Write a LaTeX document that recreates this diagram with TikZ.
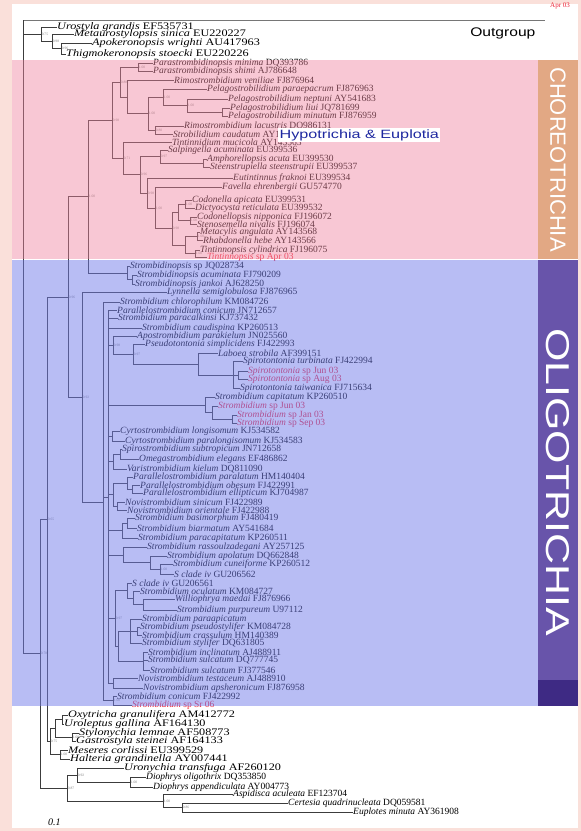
\documentclass[tikz,border=0pt]{standalone}
\usepackage{fontspec}
\setmainfont{Liberation Serif}
\setsansfont{Liberation Sans}
\usetikzlibrary{positioning}

\definecolor{treegray}{RGB}{60,60,60}
\definecolor{bordpink}{RGB}{250,224,218}
\definecolor{pinkov}{RGB}{240,133,160}
\definecolor{blueov}{RGB}{115,125,235}
\definecolor{tanbox}{RGB}{226,168,132}
\definecolor{purplebox}{RGB}{104,84,170}
\definecolor{darkpurple}{RGB}{62,42,132}
\definecolor{sampred}{RGB}{235,35,55}
\definecolor{hypoblue}{RGB}{30,40,160}

\newcommand{\sq}[2]{\textit{#1} #2}

\begin{document}
\begin{tikzpicture}[x=1pt, y=-1pt,
    leaf/.style={anchor=west, inner sep=0pt, font=\fontsize{9.5}{10}\selectfont, text=black},
    bigleaf/.style={leaf, font=\fontsize{10}{10}\selectfont, xscale=1.22},
    sample/.style={leaf, text=sampred},
    branch/.style={draw=treegray, line width=0.6pt},
    support/.style={anchor=west, inner sep=0.6pt, font=\fontsize{3.6}{4}\selectfont, text=gray},
    sidelabel/.style={rotate=-90, text=white, font=\sffamily, inner sep=0pt}
]

\useasboundingbox (0,0) rectangle (581,831);
\fill[bordpink] (0,0) rectangle (581,831);
\fill[white] (12,4) rectangle (578,828);

% outgroup
\node[bigleaf] (urgr) at (57,27) {\sq{Urostyla grandis}{EF535731}};
\node[bigleaf] (mesi) at (74,34) {\sq{Metaurostylopsis sinica}{EU220227}};
\node[bigleaf] (apwr) at (92,43) {\sq{Apokeronopsis wrighti}{AU417963}};
\node[bigleaf] (thst) at (66,54) {\sq{Thigmokeronopsis stoecki}{EU220226}};

% choreotrichia
\node[leaf] (pmin) at (153,63) {\sq{Parastrombidinopsis minima}{DQ393786}};
\node[leaf] (pshi) at (153,71) {\sq{Parastrombidinopsis shimi}{AJ786648}};
\node[leaf] (rven) at (174,80) {\sq{Rimostrombidium veniliae}{FJ876964}};
\node[leaf] (ppar) at (207,89) {\sq{Pelagostrobilidium paraepacrum}{FJ876963}};
\node[leaf] (pnep) at (228,99) {\sq{Pelagostrobilidium neptuni}{AY541683}};
\node[leaf] (pliu) at (230,108) {\sq{Pelagostrobilidium liui}{JQ781699}};
\node[leaf] (pmnt) at (228,116) {\sq{Pelagostrobilidium minutum}{FJ876959}};
\node[leaf] (rlac) at (184,126) {\sq{Rimostrombidium lacustris}{DQ986131}};
\node[leaf] (scau) at (173,134) {\sq{Strobilidium caudatum}{AY143573}};
\node[leaf] (tmuc) at (172,142) {\sq{Tintinnidium mucicola}{AY143563}};
\node[leaf] (sacu) at (168,150) {\sq{Salpingella acuminata}{EU399536}};
\node[leaf] (aacu) at (207,159) {\sq{Amphorellopsis acuta}{EU399530}};
\node[leaf] (sste) at (210,167) {\sq{Steenstrupiella steenstrupii}{EU399537}};
\node[leaf] (efra) at (233,178) {\sq{Eutintinnus fraknoi}{EU399534}};
\node[leaf] (fehr) at (222,187) {\sq{Favella ehrenbergii}{GU574770}};
\node[leaf] (capi) at (192,200) {\sq{Codonella apicata}{EU399531}};
\node[leaf] (dret) at (195,208) {\sq{Dictyocysta reticulata}{EU399532}};
\node[leaf] (cnip) at (197,217) {\sq{Codonellopsis nipponica}{FJ196072}};
\node[leaf] (sniv) at (197,224) {\sq{Stenosemella nivalis}{FJ196074}};
\node[leaf] (mang) at (200,232) {\sq{Metacylis angulata}{AY143568}};
\node[leaf] (rheb) at (203,240) {\sq{Rhabdonella hebe}{AY143566}};
\node[leaf] (tcyl) at (200,250) {\sq{Tintinnopsis cylindrica}{FJ196075}};
\node[sample] (tsap) at (207,257) {\sq{Tintinnopsis}{sp Apr 03}};
\node[leaf] (sbsp) at (130,266) {\sq{Strombidinopsis}{sp JQ028734}};
\node[leaf] (sbac) at (137,275) {\sq{Strombidinopsis acuminata}{FJ790209}};
\node[leaf] (sbja) at (135,284) {\sq{Strombidinopsis jankoi}{AJ628250}};

% oligotrichia
\node[leaf] (lsem) at (167,292) {\sq{Lynnella semiglobulosa}{FJ876965}};
\node[leaf] (schl) at (120,302) {\sq{Strombidium chlorophilum}{KM084726}};
\node[leaf] (pcon) at (117,310) {\sq{Parallelostrombidium conicum}{JN712657}};
\node[leaf] (spac) at (118,318) {\sq{Strombidium paracalkinsi}{KJ737432}};
\node[leaf] (scdp) at (142,328) {\sq{Strombidium caudispina}{KP260513}};
\node[leaf] (apar) at (137,336) {\sq{Apostrombidium parakielum}{JN025560}};
\node[leaf] (psim) at (145,344) {\sq{Pseudotontonia simplicidens}{FJ422993}};
\node[leaf] (lstr) at (218,353) {\sq{Laboea strobila}{AF399151}};
\node[leaf] (stur) at (243,361) {\sq{Spirotontonia turbinata}{FJ422994}};
\node[sample] (ssjn) at (248,371) {\sq{Spirotontonia}{sp Jun 03}};
\node[sample] (ssag) at (248,379) {\sq{Spirotontonia}{sp Aug 03}};
\node[leaf] (stai) at (240,388) {\sq{Spirotontonia taiwanica}{FJ715634}};
\node[leaf] (scap) at (215,397) {\sq{Strombidium capitatum}{KP260510}};
\node[sample] (sjun) at (218,406) {\sq{Strombidium}{sp Jun 03}};
\node[sample] (sjan) at (237,415) {\sq{Strombidium}{sp Jan 03}};
\node[sample] (ssep) at (237,423) {\sq{Strombidium}{sp Sep 03}};
\node[leaf] (clon) at (120,431) {\sq{Cyrtostrombidium longisomum}{KJ534582}};
\node[leaf] (cpar) at (125,441) {\sq{Cyrtostrombidium paralongisomum}{KJ534583}};
\node[leaf] (ssub) at (122,449) {\sq{Spirostrombidium subtropicum}{JN712658}};
\node[leaf] (oele) at (139,459) {\sq{Omegastrombidium elegans}{EF486862}};
\node[leaf] (vkie) at (127,469) {\sq{Varistrombidium kielum}{DQ811090}};
\node[leaf] (ppal) at (133,477) {\sq{Parallelostrombidium paralatum}{HM140404}};
\node[leaf] (pobe) at (140,485) {\sq{Parallelostrombidium obesum}{FJ422991}};
\node[leaf] (pell) at (143,493) {\sq{Parallelostrombidium ellipticum}{KJ704987}};
\node[leaf] (nsin) at (125,502) {\sq{Novistrombidium sinicum}{FJ422989}};
\node[leaf] (nori) at (127,510) {\sq{Novistrombidium orientale}{FJ422988}};
\node[leaf] (sbas) at (135,518) {\sq{Strombidium basimorphum}{FJ480419}};
\node[leaf] (sbia) at (137,528) {\sq{Strombidium biarmatum}{AY541684}};
\node[leaf] (spca) at (138,538) {\sq{Strombidium paracapitatum}{KP260511}};
\node[leaf] (sras) at (147,547) {\sq{Strombidium rassoulzadegani}{AY257125}};
\node[leaf] (sapo) at (167,556) {\sq{Strombidium apolatum}{DQ662848}};
\node[leaf] (scun) at (173,564) {\sq{Strombidium cuneiforme}{KP260512}};
\node[leaf] (sci1) at (174,574) {\sq{S clade iv}{GU206562}};
\node[leaf] (sci2) at (132,583) {\sq{S clade iv}{GU206561}};
\node[leaf] (socu) at (140,591) {\sq{Strombidium oculatum}{KM084727}};
\node[leaf] (wmae) at (175,599) {\sq{Williophrya maedai}{FJ876966}};
\node[leaf] (spur) at (177,610) {\sq{Strombidium purpureum}{U97112}};
\node[leaf] (spap) at (142,619) {\textit{Strombidium paraapicatum}};
\node[leaf] (spse) at (140,627) {\sq{Strombidium pseudostylifer}{KM084728}};
\node[leaf] (scra) at (142,635) {\sq{Strombidium crassulum}{HM140389}};
\node[leaf] (ssty) at (142,643) {\sq{Strombidium stylifer}{DQ631805}};
\node[leaf] (sinc) at (148,652) {\sq{Strombidium inclinatum}{AJ488911}};
\node[leaf] (ssu1) at (148,660) {\sq{Strombidium sulcatum}{DQ777745}};
\node[leaf] (ssu2) at (150,670) {\sq{Strombidium sulcatum}{FJ377546}};
\node[leaf] (ntes) at (138,678) {\sq{Novistrombidium testaceum}{AJ488910}};
\node[leaf] (naps) at (143,688) {\sq{Novistrombidium apsheronicum}{FJ876958}};
\node[leaf] (scon) at (117,696) {\sq{Strombidium conicum}{FJ422992}};
\node[sample] (sssr) at (132,705) {\sq{Strombidium}{sp Sr 06}};

% hypotrichia, halteria, euplotia
\node[bigleaf] (oxgr) at (68,715) {\sq{Oxytricha granulifera}{AM412772}};
\node[bigleaf] (urga) at (64,724) {\sq{Uroleptus gallina}{AF164130}};
\node[bigleaf] (stle) at (79,733) {\sq{Stylonychia lemnae}{AF508773}};
\node[bigleaf] (gast) at (76,741) {\sq{Gastrostyla steinei}{AF164133}};
\node[bigleaf] (meco) at (68,750) {\sq{Meseres corlissi}{EU399529}};
\node[bigleaf] (hagr) at (70,759) {\sq{Halteria grandinella}{AY007441}};
\node[bigleaf] (urtr) at (124,768) {\sq{Uronychia transfuga}{AF260120}};
\node[leaf] (diol) at (146,777) {\sq{Diophrys oligothrix}{DQ353850}};
\node[leaf] (diap) at (153,787) {\sq{Diophrys appendiculata}{AY004773}};
\node[leaf] (asac) at (233,794) {\sq{Aspidisca aculeata}{EF123704}};
\node[leaf] (cequ) at (288,803) {\sq{Certesia quadrinucleata}{DQ059581}};
\node[leaf] (eumi) at (353,812) {\sq{Euplotes minuta}{AY361908}};

% internal nodes
\coordinate (root) at (23,343);
\coordinate (nO1) at (41,34);
\coordinate (nO2) at (52,41);
\coordinate (nO3) at (61,48.5);
\coordinate (nPa) at (138,67);
\coordinate (nPl1) at (222,112);
\coordinate (nPl2) at (187,105.5);
\coordinate (nPl3) at (163,97);
\coordinate (nRs) at (155,130);
\coordinate (nSt1) at (148,113.5);
\coordinate (nSt2) at (127,97);
\coordinate (nSt3) at (120,82);
\coordinate (nAm) at (203,163);
\coordinate (nSa) at (160,156);
\coordinate (nCd1) at (185,204);
\coordinate (nCd2) at (190,220.5);
\coordinate (nCd3) at (178,212);
\coordinate (nMr) at (197,236);
\coordinate (nTt) at (195,253.5);
\coordinate (nMT) at (185,245);
\coordinate (nCd4) at (172,228.5);
\coordinate (nEF) at (155,208);
\coordinate (nEu) at (147,193);
\coordinate (nTi1) at (140,174.5);
\coordinate (nTi2) at (123,158);
\coordinate (nCh1) at (112,120);
\coordinate (nSb2) at (132,279.5);
\coordinate (nSb1) at (127,273);
\coordinate (nCh2) at (88,196.5);
\coordinate (nOl0) at (82,397);
\coordinate (nC) at (68,297);
\coordinate (nOl1) at (103,502);
\coordinate (nOl2) at (108,497);
\coordinate (nSp1) at (238,375);
\coordinate (nSp2) at (233,375);
\coordinate (nLa) at (198,364);
\coordinate (nPs) at (133,354);
\coordinate (nAp) at (113,345);
\coordinate (nSj1) at (232,419);
\coordinate (nSj2) at (212,412.5);
\coordinate (nSc) at (205,405);
\coordinate (nCy) at (112,436);
\coordinate (nOm1) at (120,454);
\coordinate (nOm2) at (113,461.5);
\coordinate (nPr1) at (132,489);
\coordinate (nPr2) at (127,483);
\coordinate (nNv) at (117,506);
\coordinate (nPN) at (113,494.5);
\coordinate (nBi1) at (127,523);
\coordinate (nBi) at (122,530.5);
\coordinate (nCu) at (160,569);
\coordinate (nRa1) at (150,562.5);
\coordinate (nRa) at (123,555);
\coordinate (nWi) at (143,604.5);
\coordinate (nOc) at (133,598);
\coordinate (nSc2) at (127,590.5);
\coordinate (nCr1) at (137,631);
\coordinate (nCr2) at (130,631);
\coordinate (nSu1) at (143,661);
\coordinate (nSu2) at (118,646);
\coordinate (nGr) at (115,618);
\coordinate (nNo) at (113,683);
\coordinate (nCo) at (113,700.5);
\coordinate (nHy1) at (62,719.5);
\coordinate (nSG) at (72,737);
\coordinate (nHy2) at (55,728);
\coordinate (nMH) at (60,754.5);
\coordinate (nHM) at (50,741);
\coordinate (nB) at (47,519);
\coordinate (nDi) at (130,782);
\coordinate (nUr) at (77,775);
\coordinate (nCE) at (182,807.5);
\coordinate (nAs) at (163,801);
\coordinate (nEup) at (67,788);
\coordinate (nA) at (40,653.5);

% branches
\draw[branch, draw=treegray!70] (23,20) -- (545,20);
\draw[branch] (23,20) -- (root);
\foreach \p/\c in {root/nO1, root/nA, nO1/urgr, nO1/nO2, nO2/mesi, nO2/nO3, nO3/apwr, nO3/thst,
    nA/nB, nA/nEup, nB/nC, nB/nHM, nC/nCh2, nC/nOl0,
    nCh2/nCh1, nCh2/nSb1, nSb1/sbsp, nSb1/nSb2, nSb2/sbac, nSb2/sbja,
    nCh1/nSt3, nCh1/nTi2, nSt3/nPa, nSt3/nSt2, nPa/pmin, nPa/pshi, nSt2/rven, nSt2/nSt1,
    nSt1/nPl3, nSt1/nRs, nPl3/ppar, nPl3/nPl2, nPl2/pnep, nPl2/nPl1, nPl1/pliu, nPl1/pmnt,
    nRs/rlac, nRs/scau, nTi2/tmuc, nTi2/nTi1, nTi1/nSa, nTi1/nEu, nSa/sacu, nSa/nAm,
    nAm/aacu, nAm/sste, nEu/efra, nEu/nEF, nEF/fehr, nEF/nCd4, nCd4/nCd3, nCd4/nMT,
    nCd3/nCd1, nCd3/nCd2, nCd1/capi, nCd1/dret, nCd2/cnip, nCd2/sniv,
    nMT/nMr, nMT/nTt, nMr/mang, nMr/rheb, nTt/tcyl, nTt/tsap,
    nOl0/lsem, nOl0/nOl1, nOl1/schl, nOl1/nOl2, nOl1/nCo, nCo/scon, nCo/sssr,
    nOl2/pcon, nOl2/spac, nOl2/scdp, nOl2/nAp, nOl2/nSc, nOl2/nCy, nOl2/nOm2, nOl2/nPN,
    nOl2/nBi, nOl2/nRa, nOl2/nGr, nOl2/nNo,
    nAp/apar, nAp/nPs, nPs/psim, nPs/nLa, nLa/lstr, nLa/nSp2, nSp2/stur, nSp2/nSp1, nSp2/stai,
    nSp1/ssjn, nSp1/ssag, nSc/scap, nSc/nSj2, nSj2/sjun, nSj2/nSj1, nSj1/sjan, nSj1/ssep,
    nCy/clon, nCy/cpar, nOm2/nOm1, nOm2/vkie, nOm1/ssub, nOm1/oele,
    nPN/nPr2, nPN/nNv, nPr2/ppal, nPr2/nPr1, nPr1/pobe, nPr1/pell, nNv/nsin, nNv/nori,
    nBi/nBi1, nBi/spca, nBi1/sbas, nBi1/sbia, nRa/sras, nRa/nRa1, nRa1/sapo, nRa1/nCu,
    nCu/scun, nCu/sci1, nGr/nSc2, nGr/nSu2, nSc2/sci2, nSc2/nOc, nOc/socu, nOc/nWi,
    nWi/wmae, nWi/spur, nSu2/nCr2, nSu2/nSu1, nCr2/spap, nCr2/nCr1, nCr2/ssty,
    nCr1/spse, nCr1/scra, nSu1/sinc, nSu1/ssu1, nSu1/ssu2, nNo/ntes, nNo/naps,
    nHM/nHy2, nHM/nMH, nHy2/nHy1, nHy2/nSG, nHy1/oxgr, nHy1/urga, nSG/stle, nSG/gast,
    nMH/meco, nMH/hagr, nEup/nUr, nEup/nAs, nUr/urtr, nUr/nDi, nDi/diol, nDi/diap,
    nAs/asac, nAs/nCE, nCE/cequ, nCE/eumi}
    \draw[branch] (\p) |- (\c);

% support values
\foreach \n/\v in {nO1/0.75, nO2/0.98, nO3/0.96, nPa/1.00, nSt3/0.88, nPl3/1.00, nPl2/1.00,
    nSt1/1.00, nRs/0.80, nCh1/0.98, nTi2/0.71, nSa/0.97, nTi1/0.96, nEu/0.98, nEF/1.00,
    nCd1/1.00, nCd2/1.00, nCd4/0.98, nMr/1.00, nTt/1.00, nCh2/1.00, nC/0.96, nOl0/0.92,
    nAp/0.98, nPs/0.97, nCo/1.00, nCu/1.00, nGr/0.97, nHM/0.75, nSG/1.00, nMH/1.00,
    nUr/0.92, nDi/1.00, nEup/0.87, nAs/1.00, nCE/0.86, nA/0.78, nB/0.65}
    \node[support] at (\n) {\v};

% coloured groups
\fill[pinkov, fill opacity=0.45] (12,60) rectangle (538,259);
\fill[blueov, fill opacity=0.5] (12,260) rectangle (538,706);

\fill[tanbox] (538,60) rectangle (578,259);
\node[sidelabel, font=\sffamily\fontsize{22}{22}\selectfont] (choreo) at (558,159.5) {CHOREOTRICHIA};
\fill[purplebox] (538,260) rectangle (578,706);
\fill[darkpurple] (538,680) rectangle (578,706);
\node[sidelabel, font=\sffamily\fontsize{33}{33}\selectfont, xscale=1.3] (oligo) at (558,482) {OLIGOTRICHIA};

\node[fill=white, inner sep=1pt, minimum height=14pt, text=hypoblue, font=\sffamily\fontsize{12}{12}\selectfont, xscale=1.35, anchor=west] (hypo) at (278,135) {Hypotrichia \& Euplotia};
\node[anchor=west, inner sep=0pt, font=\sffamily\fontsize{12.5}{13}\selectfont, xscale=1.25] (outg) at (470,33) {Outgroup};
\node[anchor=west, inner sep=0pt, text=sampred, font=\fontsize{7}{7}\selectfont] (apr) at (550,6) {Apr 03};
\node[anchor=west, inner sep=0pt, font=\itshape\fontsize{10}{10}\selectfont] (scale) at (48,822) {0.1};

\end{tikzpicture}
\end{document}
